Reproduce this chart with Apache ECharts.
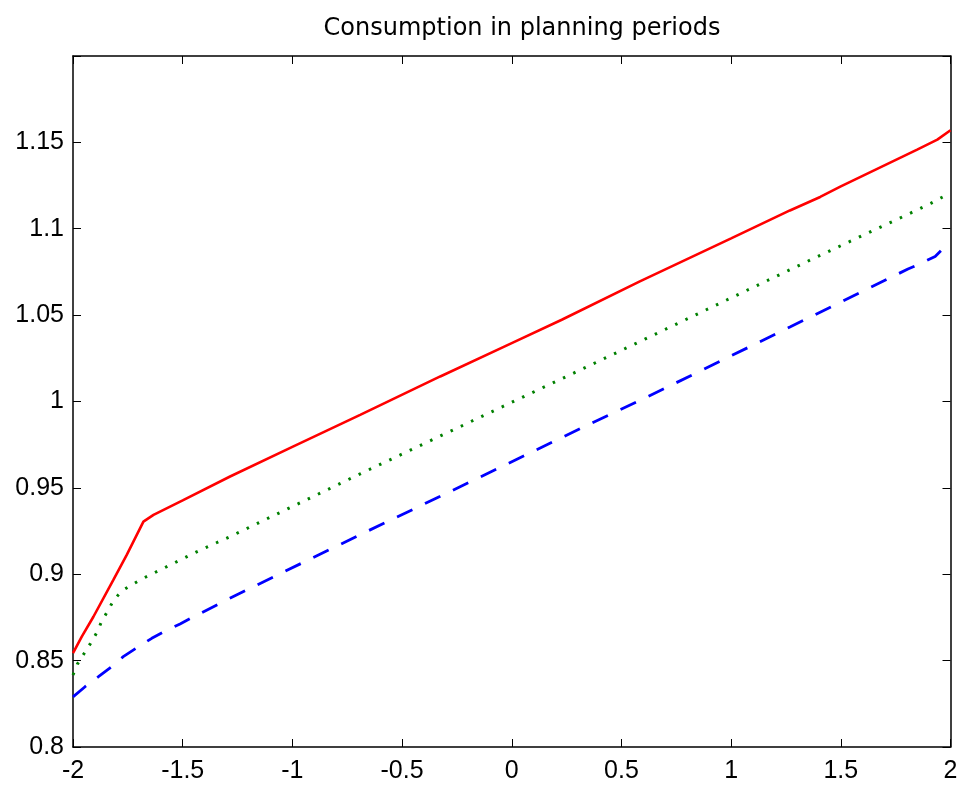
<!DOCTYPE html>
<html>
<head>
<meta charset="utf-8">
<script src="https://cdn.jsdelivr.net/npm/echarts@6/dist/echarts.min.js"></script>
<style>
html,body{margin:0;padding:0;background:#fff;}
#chart{width:962px;height:787px;}
</style>
</head>
<body>
<div id="chart"></div>
<script>
const titleText = 'Consumption in planning periods';
const xTicks = [-2, -1.5, -1, -0.5, 0, 0.5, 1, 1.5, 2];
const yTicks = [0.8, 0.85, 0.9, 0.95, 1, 1.05, 1.1, 1.15];

const redX = [-2, -1.96, -1.907, -1.816, -1.755, -1.679, -1.633, -1.5, -1.284, -1, -0.691, -0.326, 0, 0.228, 0.584, 1, 1.268, 1.406, 1.5, 1.848, 1.94, 2];
const redY = [0.8543, 0.8639, 0.8754, 0.8967, 0.9112, 0.9305, 0.9344, 0.9428, 0.9566, 0.9737, 0.9923, 1.0145, 1.0338, 1.0473, 1.0695, 1.0944, 1.1106, 1.1184, 1.1245, 1.1458, 1.1516, 1.157];

const greenX = [-2, -1.98, -1.95, -1.92, -1.89, -1.87, -1.842, -1.815, -1.778, -1.733, -1.687, -1.588, -1.436, -1.284, -0.691, -0.288, 0.313, 0.607, 1.262, 1.406, 1.86, 1.91, 1.96, 2];
const greenY = [0.8417, 0.848, 0.854, 0.860, 0.8666, 0.8725, 0.8787, 0.8849, 0.8903, 0.8938, 0.8972, 0.9034, 0.913, 0.9218, 0.9581, 0.9823, 1.0183, 1.0361, 1.0759, 1.0846, 1.1116, 1.1147, 1.1181, 1.1205];

const blueX = [-2, -1.945, -1.884, -1.824, -1.771, -1.702, -1.641, -1.58, -1.512, -1.45, -1.255, -0.693, -0.328, 0.341, 0.607, 1.268, 1.806, 1.861, 1.93, 1.983, 2];
const blueY = [0.829, 0.8349, 0.8407, 0.8465, 0.8523, 0.858, 0.8629, 0.8671, 0.8712, 0.8754, 0.888, 0.9228, 0.945, 0.9861, 1.002, 1.0431, 1.0767, 1.0797, 1.084, 1.0907, 1.092];

function pairs(xs, ys) { return xs.map((x, i) => [x, ys[i]]); }

const font = '"Liberation Sans", Arial, Helvetica, sans-serif';
const chart = echarts.init(document.getElementById('chart'), null, {renderer: 'canvas'});

const axisLine = {show: true, onZero: false, lineStyle: {color: '#000', width: 1.5}};
const tick = {show: true, inside: true, length: 8, lineStyle: {color: '#000', width: 1}};

chart.setOption({
  animation: false,
  backgroundColor: '#fff',
  title: {
    text: titleText,
    left: 522,
    textAlign: 'center',
    top: 17,
    padding: 0,
    textStyle: {fontFamily: '"DejaVu Sans", sans-serif', fontSize: 24, fontWeight: 'normal', color: '#000'}
  },
  grid: {left: 73, right: 11.5, top: 56, bottom: 40, containLabel: false, outerBoundsMode: 'none'},
  xAxis: [{
    type: 'value', min: xTicks[0], max: xTicks[xTicks.length - 1], interval: 0.5,
    position: 'bottom',
    axisLine: axisLine, axisTick: tick, splitLine: {show: false},
    axisLabel: {color: '#000', fontFamily: font, fontSize: 25, margin: 12,
      formatter: v => { const r = Math.round(v * 100) / 100; return xTicks.includes(r) ? String(r) : ''; }}
  }, {
    type: 'value', min: xTicks[0], max: xTicks[xTicks.length - 1], interval: 0.5,
    position: 'top',
    axisLine: axisLine, axisTick: tick, splitLine: {show: false}, axisLabel: {show: false}
  }],
  yAxis: [{
    type: 'value', min: 0.8, max: 1.2, interval: 0.05,
    position: 'left',
    axisLine: axisLine, axisTick: tick, splitLine: {show: false},
    axisLabel: {color: '#000', fontFamily: font, fontSize: 25, margin: 9,
      formatter: v => { const r = Math.round(v * 100) / 100; return yTicks.includes(r) ? String(r) : ''; }}
  }, {
    type: 'value', min: 0.8, max: 1.2, interval: 0.05,
    position: 'right',
    axisLine: axisLine, axisTick: tick, splitLine: {show: false}, axisLabel: {show: false}
  }],
  series: [
    {type: 'line', name: 'red', data: pairs(redX, redY), showSymbol: false, symbol: 'none',
     lineStyle: {color: '#ff0000', width: 2.6}, z: 3},
    {type: 'line', name: 'green', data: pairs(greenX, greenY), showSymbol: false, symbol: 'none',
     lineStyle: {color: '#008000', width: 3, type: [2.5, 8.8]}, z: 2},
    {type: 'line', name: 'blue', data: pairs(blueX, blueY), showSymbol: false, symbol: 'none',
     lineStyle: {color: '#0000ff', width: 2.8, type: [17, 14]}, z: 2}
  ]
});
</script>
</body>
</html>
